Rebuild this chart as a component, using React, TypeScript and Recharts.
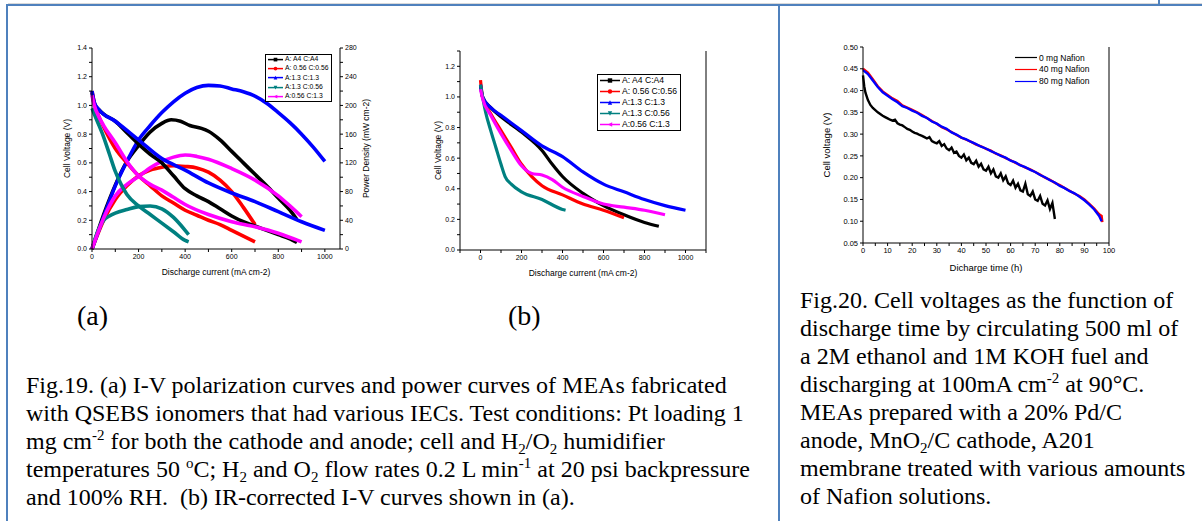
import React from 'react';
import { LineChart, Line, XAxis, YAxis, Legend } from 'recharts';

type Pt = [number, number];

// ---- Fig.19 (a): I-V curves (V) and power curves (mW cm-2) ----
const aNames = ['A: A4 C:A4', 'A: 0.56 C:0.56', 'A:1.3 C:1.3', 'A:1.3 C:0.56', 'A:0.56 C:1.3'];
const aColors = ['#000000', '#ff0000', '#0000ff', '#008080', '#ff00ff'];
const aShapes = ['square', 'circle', 'up', 'down', 'left'];

const aVoltA4: Pt[] = [[0, 1.09], [10, 1.01], [30, 0.97], [50, 0.94], [100, 0.89], [150, 0.81], [200, 0.73], [250, 0.66], [300, 0.6], [350, 0.51], [400, 0.42], [450, 0.37], [500, 0.33], [550, 0.28], [600, 0.23], [650, 0.19], [700, 0.16], [750, 0.13], [800, 0.1], [850, 0.07], [880, 0.045]];
const aVolt056: Pt[] = [[0, 1.1], [10, 1.02], [30, 0.92], [50, 0.85], [100, 0.7], [150, 0.6], [200, 0.51], [250, 0.44], [300, 0.37], [350, 0.32], [400, 0.27], [450, 0.235], [500, 0.2], [550, 0.17], [600, 0.13], [650, 0.09], [700, 0.05]];
const aVolt13: Pt[] = [[0, 1.1], [10, 1.02], [30, 0.97], [100, 0.89], [200, 0.76], [300, 0.63], [400, 0.55], [500, 0.46], [600, 0.39], [700, 0.33], [800, 0.26], [900, 0.19], [1000, 0.13]];
const aVolt13056: Pt[] = [[0, 0.98], [20, 0.9], [50, 0.78], [75, 0.66], [100, 0.54], [125, 0.45], [150, 0.38], [200, 0.3], [250, 0.24], [300, 0.18], [350, 0.12], [400, 0.06], [415, 0.05]];
const aVolt05613: Pt[] = [[0, 1.07], [10, 1.0], [30, 0.92], [50, 0.86], [100, 0.74], [150, 0.61], [200, 0.51], [250, 0.45], [300, 0.41], [350, 0.36], [400, 0.31], [500, 0.24], [600, 0.19], [700, 0.155], [800, 0.11], [900, 0.05]];

const aPowA4: Pt[] = [[0, 0], [50, 48], [100, 89], [150, 122], [200, 144], [250, 163], [300, 175], [340, 180], [380, 178], [420, 172], [470, 168], [500, 164], [550, 152], [600, 136], [650, 120], [700, 104], [750, 88], [800, 71], [850, 54], [880, 41]];
const aPow056: Pt[] = [[0, 0], [50, 40], [100, 69], [150, 88], [200, 102], [250, 110], [300, 114], [350, 116], [400, 115], [450, 113], [500, 107], [550, 96], [600, 80], [650, 58], [700, 34]];
const aPow13: Pt[] = [[0, 0], [50, 45], [100, 88], [150, 122], [200, 152], [250, 172], [300, 190], [350, 205], [400, 217], [450, 225], [500, 228], [550, 227], [600, 223], [650, 219], [700, 213], [750, 203], [800, 190], [850, 176], [900, 160], [950, 142], [1000, 122]];
const aPow13056: Pt[] = [[0, 0], [25, 25], [50, 40], [75, 46], [100, 50], [150, 55], [200, 59], [250, 60], [300, 56], [350, 44], [400, 26], [415, 20]];
const aPow05613: Pt[] = [[0, 0], [50, 43], [100, 74], [150, 90], [200, 101], [250, 113], [300, 122], [350, 128], [400, 131], [450, 129], [500, 125], [600, 112], [700, 96], [800, 74], [850, 60], [900, 45]];

// ---- Fig.19 (b): IR-corrected I-V ----
const bVoltA4: Pt[] = [[0, 1.08], [10, 1.0], [50, 0.93], [100, 0.87], [200, 0.77], [300, 0.65], [350, 0.56], [400, 0.48], [500, 0.37], [600, 0.29], [700, 0.23], [800, 0.18], [870, 0.155]];
const bVolt056: Pt[] = [[0, 1.11], [10, 1.0], [50, 0.89], [100, 0.78], [150, 0.67], [200, 0.56], [250, 0.48], [300, 0.42], [400, 0.36], [500, 0.3], [600, 0.26], [700, 0.21]];
const bVolt13: Pt[] = [[0, 1.08], [10, 1.0], [50, 0.93], [100, 0.88], [200, 0.78], [300, 0.68], [400, 0.61], [500, 0.51], [600, 0.43], [700, 0.38], [800, 0.33], [900, 0.29], [1000, 0.26]];
const bVolt13056: Pt[] = [[0, 1.08], [25, 0.9], [50, 0.78], [75, 0.67], [100, 0.56], [120, 0.48], [150, 0.43], [200, 0.38], [300, 0.33], [400, 0.265], [415, 0.26]];
const bVolt05613: Pt[] = [[0, 1.05], [10, 0.99], [50, 0.88], [100, 0.76], [150, 0.65], [200, 0.55], [250, 0.5], [300, 0.49], [350, 0.46], [400, 0.41], [500, 0.35], [600, 0.3], [700, 0.28], [800, 0.26], [900, 0.23]];

// ---- Fig.20: discharge at 100 mA cm-2 ----
const cNames = ['0 mg Nafion', '40 mg Nafion', '80 mg Nafion'];
const cColors = ['#000000', '#ff0000', '#0000ff'];
const cNafion0: Pt[] = [[0, 0.435], [0.5, 0.41], [1, 0.395], [2, 0.378], [3, 0.367], [4, 0.36], [5, 0.355], [6, 0.35], [7, 0.346], [8, 0.342], [9, 0.339], [10, 0.336], [11, 0.333], [12, 0.331], [13, 0.333], [14, 0.325], [15, 0.322], [16, 0.32], [17, 0.316], [18, 0.312], [19, 0.31], [20, 0.306], [21, 0.303], [22, 0.301], [23, 0.298], [24, 0.296], [25, 0.293], [26, 0.29], [27, 0.293], [28, 0.284], [29, 0.281], [30, 0.279], [31, 0.284], [32, 0.273], [33, 0.277], [34, 0.267], [35, 0.263], [36, 0.269], [37, 0.257], [38, 0.26], [39, 0.25], [40, 0.246], [41, 0.253], [42, 0.24], [43, 0.246], [44, 0.234], [45, 0.231], [46, 0.239], [47, 0.225], [48, 0.232], [49, 0.219], [50, 0.216], [51, 0.225], [52, 0.21], [53, 0.219], [54, 0.203], [55, 0.2], [56, 0.21], [57, 0.194], [58, 0.203], [59, 0.187], [60, 0.183], [61, 0.193], [62, 0.177], [63, 0.186], [64, 0.171], [65, 0.168], [66, 0.186], [67, 0.162], [68, 0.158], [69, 0.168], [70, 0.15], [71, 0.147], [72, 0.158], [73, 0.14], [74, 0.136], [75, 0.148], [76, 0.128], [77, 0.142], [78, 0.105]];
const cNafion40: Pt[] = [[0, 0.45], [2, 0.441], [4, 0.426], [6, 0.41], [8, 0.398], [10, 0.39], [12, 0.382], [14, 0.376], [16, 0.366], [18, 0.361], [20, 0.356], [22, 0.35], [24, 0.344], [26, 0.337], [28, 0.33], [30, 0.324], [32, 0.316], [34, 0.311], [36, 0.305], [38, 0.298], [40, 0.292], [42, 0.287], [44, 0.282], [46, 0.276], [48, 0.272], [50, 0.266], [52, 0.262], [54, 0.255], [56, 0.251], [58, 0.245], [60, 0.24], [62, 0.234], [64, 0.229], [66, 0.223], [68, 0.219], [70, 0.213], [72, 0.207], [74, 0.2], [76, 0.195], [78, 0.188], [80, 0.183], [82, 0.176], [84, 0.17], [86, 0.163], [88, 0.158], [90, 0.15], [92, 0.14], [94, 0.129], [96, 0.116], [97, 0.112], [97.3, 0.098]];
const cNafion80: Pt[] = [[0, 0.447], [2, 0.438], [4, 0.423], [6, 0.408], [8, 0.396], [10, 0.388], [12, 0.38], [14, 0.373], [16, 0.364], [18, 0.36], [20, 0.354], [22, 0.349], [24, 0.342], [26, 0.337], [28, 0.329], [30, 0.324], [32, 0.317], [34, 0.312], [36, 0.304], [38, 0.299], [40, 0.292], [42, 0.288], [44, 0.282], [46, 0.277], [48, 0.271], [50, 0.267], [52, 0.261], [54, 0.256], [56, 0.25], [58, 0.246], [60, 0.239], [62, 0.235], [64, 0.228], [66, 0.224], [68, 0.218], [70, 0.213], [72, 0.206], [74, 0.201], [76, 0.194], [78, 0.189], [80, 0.181], [82, 0.176], [84, 0.169], [86, 0.164], [88, 0.156], [90, 0.148], [92, 0.138], [94, 0.127], [96, 0.112], [97, 0.1]];

// tick values
const aXTicks = [0, 100, 200, 300, 400, 500, 600, 700, 800, 900, 1000];
const aVTicks = [0, 0.1, 0.2, 0.3, 0.4, 0.5, 0.6, 0.7, 0.8, 0.9, 1.0, 1.1, 1.2, 1.3, 1.4];
const aPTicks = [0, 20, 40, 60, 80, 100, 120, 140, 160, 180, 200, 220, 240, 260, 280];
const bXTicks = [-100, 0, 100, 200, 300, 400, 500, 600, 700, 800, 900, 1000, 1100];
const bVTicks = [0, 0.1, 0.2, 0.3, 0.4, 0.5, 0.6, 0.7, 0.8, 0.9, 1.0, 1.1, 1.2, 1.3];
const cXTicks = [0, 5, 10, 15, 20, 25, 30, 35, 40, 45, 50, 55, 60, 65, 70, 75, 80, 85, 90, 95, 100];
const cVTicks = [0.05, 0.1, 0.15, 0.2, 0.25, 0.3, 0.35, 0.4, 0.45, 0.5];

const FRAME = '#4f81bd';
const SANS = '"Liberation Sans", Arial, sans-serif';
const SERIF = '"Liberation Serif", "Times New Roman", serif';

const pts = (p: Pt[]) => p.map(([x, y]) => ({ x, y }));
const blank = () => '';
const evenTenth = (v: number) => (Math.round(v * 10) % 2 === 0 ? v.toFixed(1) : '');

function Marker({ shape, color, x, y, s }: { shape: string; color: string; x: number; y: number; s: number }) {
  if (shape === 'square') return <rect x={x - s} y={y - s} width={2 * s} height={2 * s} fill={color} />;
  if (shape === 'circle') return <circle cx={x} cy={y} r={s} fill={color} />;
  if (shape === 'up') return <polygon points={`${x},${y - s} ${x - s},${y + s} ${x + s},${y + s}`} fill={color} />;
  if (shape === 'down') return <polygon points={`${x},${y + s} ${x - s},${y - s} ${x + s},${y - s}`} fill={color} />;
  return <polygon points={`${x - s},${y} ${x + s},${y - s} ${x + s},${y + s}`} fill={color} />;
}

// legend with line + symbol, kept in the series order of aNames
const BoxLegend = ({ payload, font, rowH, lineW }: any) => {
  const items = (payload || [])
    .filter((p: any) => aNames.includes(p.value))
    .sort((p: any, q: any) => aNames.indexOf(p.value) - aNames.indexOf(q.value));
  return (
    <div style={{ border: '1px solid #000', background: '#fff', padding: '0 3px 0 1px', fontFamily: SANS, lineHeight: 1 }}>
      {items.map((p: any) => {
        const i = aNames.indexOf(p.value);
        return (
          <div key={p.value} style={{ display: 'flex', alignItems: 'center', height: rowH }}>
            <svg width={lineW} height={rowH} style={{ display: 'block' }}>
              <line x1={1} x2={lineW - 1} y1={rowH / 2} y2={rowH / 2} stroke={aColors[i]} strokeWidth={1.5} />
              <Marker shape={aShapes[i]} color={aColors[i]} x={lineW / 2} y={rowH / 2} s={rowH * 0.2} />
            </svg>
            <span style={{ fontSize: font, marginLeft: 1, whiteSpace: 'nowrap' }}>{p.value}</span>
          </div>
        );
      })}
    </div>
  );
};

const LineLegend = ({ payload }: any) => {
  const items = (payload || [])
    .filter((p: any) => cNames.includes(p.value))
    .sort((p: any, q: any) => cNames.indexOf(p.value) - cNames.indexOf(q.value));
  return (
    <div style={{ fontFamily: SANS, lineHeight: 1 }}>
      {items.map((p: any) => (
        <div key={p.value} style={{ display: 'flex', alignItems: 'center', height: 11.7 }}>
          <svg width={23} height={11} style={{ display: 'block' }}>
            <line x1={0} x2={22} y1={5.5} y2={5.5} stroke={p.color} strokeWidth={1.2} />
          </svg>
          <span style={{ fontSize: 8.5, marginLeft: 1, whiteSpace: 'nowrap' }}>{p.value}</span>
        </div>
      ))}
    </div>
  );
};

const tickA = { fontSize: 7, fill: '#000', fontFamily: SANS };
const axisLineK = { stroke: '#000' };

function ChartA() {
  const volts = [aVoltA4, aVolt056, aVolt13, aVolt13056, aVolt05613];
  const pows = [aPowA4, aPow056, aPow13, aPow13056, aPow05613];
  return (
    <LineChart width={360} height={260} margin={{ top: 18, right: 30, bottom: 16, left: 22 }}>
      <XAxis dataKey="x" type="number" domain={[0, 1065]} ticks={aXTicks} interval={0}
        tickFormatter={(v: number) => (v % 200 === 0 ? String(v) : '')} tick={tickA} tickSize={3}
        axisLine={axisLineK} tickLine={axisLineK} height={25} allowDuplicatedCategory={false}
        label={{ value: 'Discharge current (mA cm-2)', position: 'insideBottom', offset: -1, style: { fontSize: 8.5, fontFamily: SANS, fill: '#000' } }} />
      <XAxis xAxisId="top" orientation="top" dataKey="x" type="number" domain={[0, 1065]} ticks={aXTicks} interval={0}
        tickFormatter={blank} tickSize={3} height={0} axisLine={axisLineK} tickLine={axisLineK} />
      <YAxis yAxisId="v" type="number" domain={[0, 1.4]} ticks={aVTicks} interval={0} tickFormatter={evenTenth}
        tick={tickA} tickSize={3} width={30} axisLine={axisLineK} tickLine={axisLineK}
        label={{ value: 'Cell Voltage (V)', angle: -90, position: 'insideLeft', offset: 5, style: { textAnchor: 'middle', fontSize: 8.5, fontFamily: SANS, fill: '#000' } }} />
      <YAxis yAxisId="p" orientation="right" type="number" domain={[0, 280]} ticks={aPTicks} interval={0}
        tickFormatter={(v: number) => (v % 40 === 0 ? String(v) : '')} tick={tickA} tickSize={3} width={30}
        axisLine={axisLineK} tickLine={axisLineK}
        label={{ value: 'Power Density (mW cm-2)', angle: -90, position: 'insideRight', offset: 4, style: { textAnchor: 'middle', fontSize: 8.5, fontFamily: SANS, fill: '#000' } }} />
      {pows.map((p, i) => (
        <Line key={'p' + i} yAxisId="p" data={pts(p)} dataKey="y" type="monotone" stroke={aColors[i]} strokeWidth={3.6}
          dot={false} legendType="none" isAnimationActive={false} />
      ))}
      {volts.map((p, i) => (
        <Line key={'v' + i} yAxisId="v" data={pts(p)} dataKey="y" name={aNames[i]} type="monotone" stroke={aColors[i]} strokeWidth={3.6}
          dot={false} isAnimationActive={false} />
      ))}
      <Legend layout="vertical" align="center" verticalAlign="middle"
        wrapperStyle={{ left: 225, top: 24, width: 'auto' }}
        content={(props: any) => <BoxLegend {...props} font={6.8} rowH={9.2} lineW={17} />} />
    </LineChart>
  );
}

function ChartB() {
  const volts = [bVoltA4, bVolt056, bVolt13, bVolt13056, bVolt05613];
  return (
    <LineChart width={320} height={250} margin={{ top: 21, right: 14, bottom: 2, left: 20 }}>
      <XAxis dataKey="x" type="number" domain={[-100, 1100]} ticks={bXTicks} interval={0}
        tickFormatter={(v: number) => (v % 200 === 0 && v >= 0 && v <= 1000 ? String(v) : '')} tick={tickA} tickSize={3}
        axisLine={axisLineK} tickLine={axisLineK} height={28} allowDuplicatedCategory={false}
        label={{ value: 'Discharge current (mA cm-2)', position: 'insideBottom', offset: 2, style: { fontSize: 8.5, fontFamily: SANS, fill: '#000' } }} />
      <XAxis xAxisId="top" orientation="top" dataKey="x" type="number" domain={[-100, 1100]} ticks={bXTicks} interval={0}
        tickFormatter={blank} tickSize={3} height={0} axisLine={axisLineK} tickLine={axisLineK} />
      <YAxis type="number" domain={[0, 1.3]} ticks={bVTicks} interval={0} tickFormatter={evenTenth}
        tick={tickA} tickSize={3} width={30} axisLine={axisLineK} tickLine={axisLineK}
        label={{ value: 'Cell Voltage (V)', angle: -90, position: 'insideLeft', offset: 8, style: { textAnchor: 'middle', fontSize: 8.5, fontFamily: SANS, fill: '#000' } }} />
      <YAxis yAxisId="r" orientation="right" type="number" domain={[0, 1.3]} ticks={bVTicks} interval={0}
        tickFormatter={blank} tickSize={3} width={10} axisLine={axisLineK} tickLine={axisLineK} />
      {volts.map((p, i) => (
        <Line key={'v' + i} data={pts(p)} dataKey="y" name={aNames[i]} type="monotone" stroke={aColors[i]} strokeWidth={3.2}
          dot={false} isAnimationActive={false} />
      ))}
      <Legend layout="vertical" align="center" verticalAlign="middle"
        wrapperStyle={{ left: 187, top: 44, width: 'auto' }}
        content={(props: any) => <BoxLegend {...props} font={8.6} rowH={11} lineW={22} />} />
    </LineChart>
  );
}

function ChartC() {
  const series = [cNafion0, cNafion40, cNafion80];
  return (
    <LineChart width={330} height={250} margin={{ top: 17, right: 21, bottom: 7, left: 12 }}>
      <XAxis dataKey="x" type="number" domain={[0, 100]} ticks={cXTicks} interval={0}
        tickFormatter={(v: number) => (v % 10 === 0 ? String(v) : '')} tick={{ ...tickA, fontSize: 7.5 }} tickSize={3}
        axisLine={axisLineK} tickLine={axisLineK} height={30} allowDuplicatedCategory={false}
        label={{ value: 'Dicharge time (h)', position: 'insideBottom', offset: 2, style: { fontSize: 9.5, fontFamily: SANS, fill: '#000' } }} />
      <XAxis xAxisId="top" orientation="top" dataKey="x" type="number" domain={[0, 100]} ticks={cXTicks} interval={0}
        tickFormatter={blank} tickSize={3} height={0} axisLine={axisLineK} tickLine={axisLineK} />
      <YAxis type="number" domain={[0.05, 0.5]} ticks={cVTicks} interval={0} tickFormatter={(v: number) => v.toFixed(2)}
        tick={{ ...tickA, fontSize: 7.5 }} tickSize={3} width={41} axisLine={axisLineK} tickLine={axisLineK}
        label={{ value: 'Cell voltage (V)', angle: -90, position: 'insideLeft', offset: 5, style: { textAnchor: 'middle', fontSize: 9.5, fontFamily: SANS, fill: '#000' } }} />
      <YAxis yAxisId="r" orientation="right" type="number" domain={[0.05, 0.5]} ticks={cVTicks} interval={0}
        tickFormatter={blank} tickSize={3} width={10} axisLine={axisLineK} tickLine={axisLineK} />
      {series.map((p, i) => (
        <Line key={'c' + i} data={pts(p)} dataKey="y" name={cNames[i]} type="linear" stroke={cColors[i]}
          strokeWidth={2.4} dot={false} isAnimationActive={false} />
      ))}
      <Legend layout="vertical" align="center" verticalAlign="middle"
        wrapperStyle={{ left: 205, top: 22, width: 'auto' }} content={(props: any) => <LineLegend {...props} />} />
    </LineChart>
  );
}

const cap: React.CSSProperties = { position: 'absolute', fontFamily: SERIF, fontSize: 24, lineHeight: '28px', color: '#000', whiteSpace: 'nowrap' };
const sup: React.CSSProperties = { fontSize: 15, position: 'relative', top: -9, lineHeight: 1 };
const sub: React.CSSProperties = { fontSize: 15, position: 'relative', top: 5, lineHeight: 1 };

export default function App() {
  return (
    <div style={{ position: 'absolute', left: 0, top: 0, width: 1202, height: 521, background: '#fff', overflow: 'hidden' }}>
      {/* table frame */}
      <div style={{ position: 'absolute', left: 8, top: 3, width: 1194, height: 1, background: '#d9d9d9' }} />
      <div style={{ position: 'absolute', left: 6, top: 4, width: 1196, height: 2, background: FRAME }} />
      <div style={{ position: 'absolute', left: 6, top: 4, width: 2, height: 517, background: FRAME }} />
      <div style={{ position: 'absolute', left: 778, top: 4, width: 2, height: 517, background: FRAME }} />
      <div style={{ position: 'absolute', left: 1158, top: 0, width: 2, height: 5, background: FRAME }} />

      <div style={{ position: 'absolute', left: 40, top: 30 }}><ChartA /></div>
      <div style={{ position: 'absolute', left: 410, top: 30 }}><ChartB /></div>
      <div style={{ position: 'absolute', left: 810, top: 30 }}><ChartC /></div>

      <div style={{ ...cap, fontSize: 28, left: 77, top: 302 }}>(a)</div>
      <div style={{ ...cap, fontSize: 28, left: 508, top: 302 }}>(b)</div>

      <div style={{ ...cap, left: 26, top: 371 }}>
        Fig.19. (a) I-V polarization curves and power curves of MEAs fabricated<br />
        with QSEBS ionomers that had various IECs. Test conditions: Pt loading 1<br />
        mg cm<span style={sup}>-2</span> for both the cathode and anode; cell and H<span style={sub}>2</span>/O<span style={sub}>2</span> humidifier<br />
        temperatures 50 <span style={sup}>o</span>C; H<span style={sub}>2</span> and O<span style={sub}>2</span> flow rates 0.2 L min<span style={sup}>-1</span> at 20 psi backpressure<br />
        and 100% RH.&nbsp; (b) IR-corrected I-V curves shown in (a).
      </div>

      <div style={{ ...cap, left: 800, top: 286 }}>
        Fig.20. Cell voltages as the function of<br />
        discharge time by circulating 500 ml of<br />
        a 2M ethanol and 1M KOH fuel and<br />
        discharging at 100mA cm<span style={sup}>-2</span> at 90°C.<br />
        MEAs prepared with a 20% Pd/C<br />
        anode, MnO<span style={sub}>2</span>/C cathode, A201<br />
        membrane treated with various amounts<br />
        of Nafion solutions.
      </div>
    </div>
  );
}
